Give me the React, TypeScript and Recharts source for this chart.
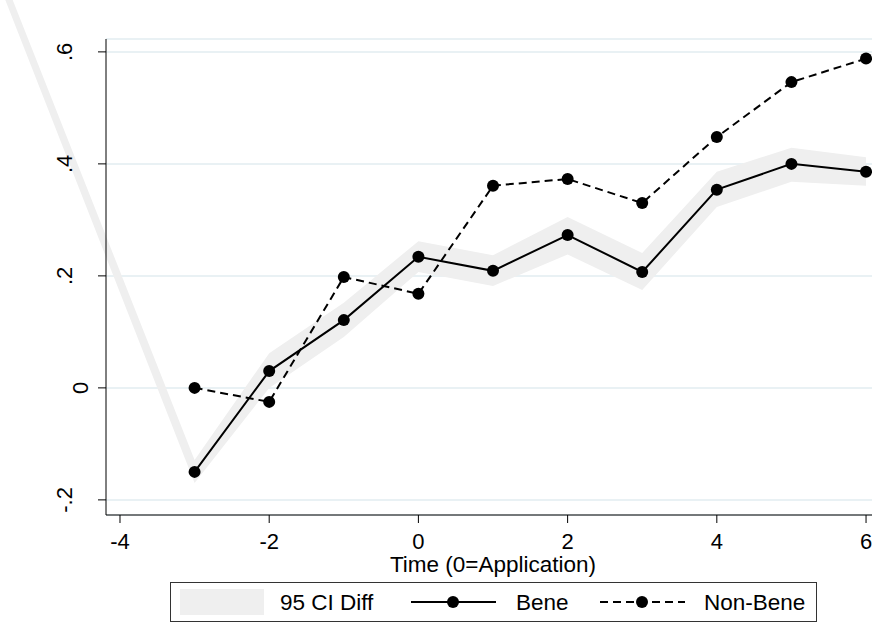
import { ComposedChart, XAxis, YAxis, CartesianGrid, Line, Area } from "recharts"

const time = [-3, -2, -1, 0, 1, 2, 3, 4, 5, 6]
const bene = [-0.15, 0.03, 0.121, 0.234, 0.209, 0.273, 0.207, 0.354, 0.4, 0.386]
const nonBene = [0.0, -0.025, 0.198, 0.168, 0.361, 0.373, 0.33, 0.448, 0.546, 0.588]
const ciLow = [-0.17, 0.0, 0.091, 0.207, 0.182, 0.238, 0.175, 0.323, 0.368, 0.361]
const ciHigh = [-0.129, 0.062, 0.152, 0.262, 0.237, 0.305, 0.241, 0.386, 0.429, 0.412]
// the CI polygon has one stray vertex far left of the plot region
const ciStrayTime = -6
const ciStrayLow = 0.85
const ciStrayHigh = 0.882

const xTicks = [-4, -2, 0, 2, 4, 6]
const yTicks = [-0.2, 0, 0.2, 0.4, 0.6]
const yTickLabels = ["-.2", "0", ".2", ".4", ".6"]
const xTitle = "Time (0=Application)"
const legendLabels = ["95 CI Diff", "Bene", "Non-Bene"]

const font = "'Liberation Sans', Arial, Helvetica, sans-serif"
const bandColor = "#efefef"

const rows = [
  { t: ciStrayTime, ci: [ciStrayLow, ciStrayHigh] },
  ...time.map((t, i) => ({
    t,
    bene: bene[i],
    nonBene: nonBene[i],
    ci: [ciLow[i], ciHigh[i]],
  })),
]

function YTick(props: any) {
  const { x, y, payload } = props
  const label = yTickLabels[yTicks.indexOf(payload.value)]
  // stata sits the plain "0" further right than the dotted labels
  const shift = label === "0" ? 16 : 0
  return (
    <text
      transform={`translate(${x + shift},${y}) rotate(-90)`}
      textAnchor="middle"
      fontSize={22}
      fontFamily={font}
      fill="#000"
    >
      {label}
    </text>
  )
}

function LegendBox() {
  return (
    <svg
      width={650}
      height={41}
      style={{ position: "absolute", left: 170, top: 582 }}
    >
      <rect x={0.5} y={0.5} width={646} height={39} fill="#fff" stroke="#333" />
      <rect x={10} y={7} width={84} height={26} fill={bandColor} />
      <g fontFamily={font} fontSize={22.5} fill="#000">
        <text x={110} y={28}>{legendLabels[0]}</text>
        <text x={346} y={28}>{legendLabels[1]}</text>
        <text x={534} y={28}>{legendLabels[2]}</text>
      </g>
      <line x1={241} x2={326} y1={20} y2={20} stroke="#000" strokeWidth={2} />
      <circle cx={283} cy={20} r={6} fill="#000" />
      <line x1={430} x2={515} y1={20} y2={20} stroke="#000" strokeWidth={2} strokeDasharray="8 5" />
      <circle cx={472} cy={20} r={6} fill="#000" />
    </svg>
  )
}

export default function App() {
  return (
    <div style={{ position: "absolute", left: 0, top: 0, width: 872, height: 628, background: "#fff" }}>
      <style>{".ci-band g { clip-path: none !important; } .recharts-surface { overflow: visible; }"}</style>
      <ComposedChart
        width={872}
        height={628}
        data={rows}
        margin={{ top: 39, right: 0, bottom: 0, left: 0 }}
      >
        <CartesianGrid vertical={false} stroke="#e2ecf0" strokeWidth={1.5} />
        <XAxis
          dataKey="t"
          type="number"
          domain={[-4.1875, 6.08]}
          allowDataOverflow
          ticks={xTicks}
          height={113}
          tickSize={8}
          tickMargin={10}
          stroke="#000"
          tick={{ fill: "#000", fontSize: 22, fontFamily: font }}
          label={{
            value: xTitle,
            position: "insideTop",
            offset: 41,
            dx: 4,
            fill: "#000",
            fontSize: 22.5,
            fontFamily: font,
          }}
        />
        <YAxis
          type="number"
          domain={[-0.227, 0.623]}
          allowDataOverflow
          ticks={yTicks}
          width={106}
          tickSize={8}
          tickMargin={26}
          stroke="#000"
          tick={<YTick />}
        />
        <Area
          className="ci-band"
          dataKey="ci"
          type="linear"
          stroke="none"
          fill={bandColor}
          fillOpacity={1}
          isAnimationActive={false}
        />
        <Line
          dataKey="bene"
          type="linear"
          stroke="#000"
          strokeWidth={2}
          dot={{ r: 6, fill: "#000", stroke: "#000", strokeWidth: 0 }}
          activeDot={false}
          isAnimationActive={false}
        />
        <Line
          dataKey="nonBene"
          type="linear"
          stroke="#000"
          strokeWidth={2}
          strokeDasharray="8 5"
          dot={{ r: 6, fill: "#000", stroke: "#000", strokeWidth: 0, strokeDasharray: "" }}
          activeDot={false}
          isAnimationActive={false}
        />
      </ComposedChart>
      <LegendBox />
    </div>
  )
}
